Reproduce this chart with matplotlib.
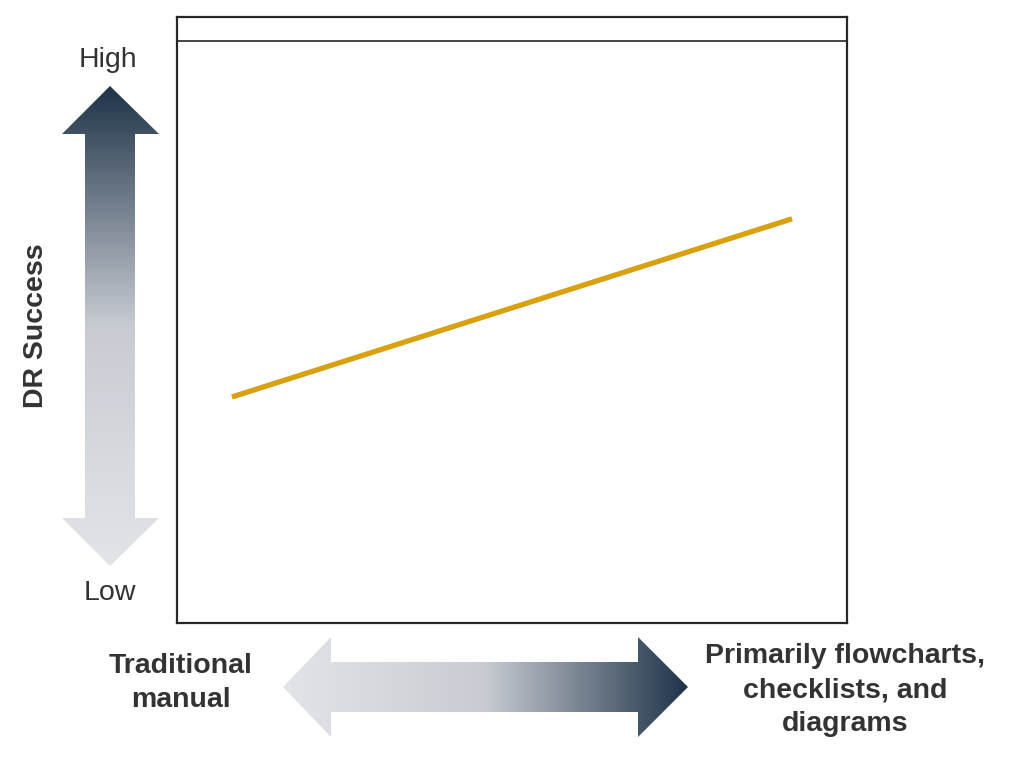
import numpy as np
import matplotlib
matplotlib.use("Agg")
import matplotlib.pyplot as plt
from matplotlib.patches import Polygon
from matplotlib.colors import LinearSegmentedColormap

plt.rcParams['font.family'] = ['Liberation Sans', 'DejaVu Sans']

# data
x_vals = [0.082, 0.918]
dr_success = [0.373, 0.667]
y_labels = ['Low', 'High']
y_title = 'DR Success'
x_left_label = 'Traditional\nmanual'
x_right_label = 'Primarily flowcharts,\nchecklists, and\ndiagrams'

W, H = 1018, 763
fig = plt.figure(figsize=(W / 100, H / 100), dpi=100)

# overlay axes in pixel coordinates for the arrows and labels
bg = fig.add_axes([0, 0, 1, 1])
bg.set_xlim(0, W)
bg.set_ylim(H, 0)
bg.axis('off')

# main plot box
ax = fig.add_axes([177 / W, 1 - 623 / H, (847 - 177) / W, (623 - 17) / H])
ax.set_xlim(0, 1)
ax.set_ylim(0, 1)
ax.set_xticks([])
ax.set_yticks([])
for s in ax.spines.values():
    s.set_color('#262626')
    s.set_linewidth(1.6)
ax.axhline(1 - 24 / 606, color='#262626', lw=1.2)
ax.plot(x_vals, dr_success, color='#D9A00F', lw=3.8, solid_capstyle='butt')

cmap = LinearSegmentedColormap.from_list(
    'grad', [(0.0, '#1f3349'), (0.5, '#c8ccd2'), (1.0, '#e2e4e8')])

# vertical double arrow
cx = 110
vpts = [(cx, 86), (62, 134), (85, 134), (85, 518), (62, 518), (cx, 566),
        (159, 518), (135, 518), (135, 134), (159, 134)]
vpoly = Polygon(vpts, closed=True, facecolor='none', edgecolor='none')
bg.add_patch(vpoly)
grad_v = np.linspace(0, 1, 256).reshape(-1, 1)
im = bg.imshow(grad_v, cmap=cmap, extent=(62, 159, 566, 86), aspect='auto',
               interpolation='bilinear')
im.set_clip_path(vpoly)

# horizontal double arrow
cy = 687
hpts = [(283, cy), (331, 637), (331, 662), (638, 662), (638, 637), (688, cy),
        (638, 737), (638, 712), (331, 712), (331, 737)]
hpoly = Polygon(hpts, closed=True, facecolor='none', edgecolor='none')
bg.add_patch(hpoly)
grad_h = np.linspace(1, 0, 256).reshape(1, -1)
im2 = bg.imshow(grad_h, cmap=cmap, extent=(283, 688, 737, 637), aspect='auto',
                interpolation='bilinear')
im2.set_clip_path(hpoly)
bg.set_xlim(0, W)
bg.set_ylim(H, 0)

txt = '#333333'
bg.text(108, 60, y_labels[1], ha='center', va='center', fontsize=20.5, color=txt)
bg.text(110, 593, y_labels[0], ha='center', va='center', fontsize=20.5, color=txt)
bg.text(36, 326, y_title, ha='center', va='center', rotation=90,
        fontsize=20.5, fontweight='bold', color=txt)
bg.text(181, 683, x_left_label, ha='center', va='center', fontsize=20.5,
        fontweight='bold', color=txt, linespacing=1.4)
bg.text(845, 690, x_right_label, ha='center', va='center', fontsize=20.5,
        fontweight='bold', color=txt, linespacing=1.38)

fig.savefig('out.png', dpi=100)
